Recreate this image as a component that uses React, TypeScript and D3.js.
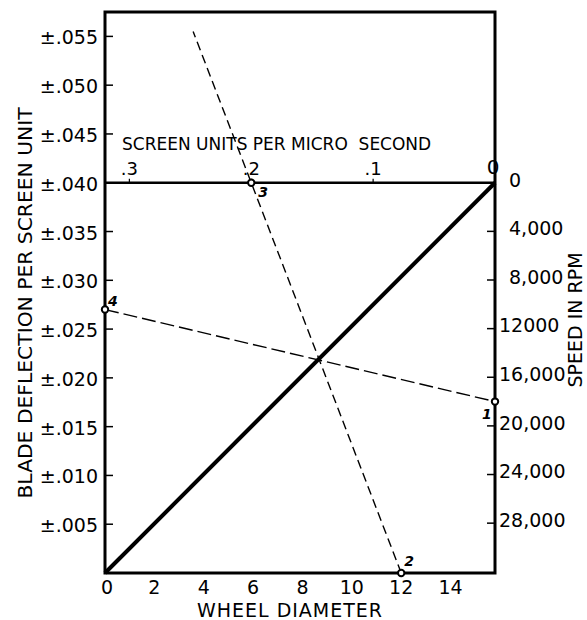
import React from 'react';
import * as d3 from 'd3';

// Left axis: blade deflection per screen unit
const deflectionTicks = [0.005, 0.01, 0.015, 0.02, 0.025, 0.03, 0.035, 0.04, 0.045, 0.05, 0.055];
const deflectionLabels = ['±.005', '±.010', '±.015', '±.020', '±.025', '±.030', '±.035', '±.040', '±.045', '±.050', '±.055'];
// Right axis: speed in rpm
const rpmTicks = [0, 4000, 8000, 12000, 16000, 20000, 24000, 28000];
const rpmLabels = ['0', '4,000', '8,000', '12000', '16,000', '20,000', '24,000', '28,000'];
// Bottom axis: wheel diameter
const diameterTicks = [0, 2, 4, 6, 8, 10, 12, 14];
// Top (inner) axis: screen units per micro second
const screenTicks = [0.3, 0.2, 0.1, 0];
const screenLabels = ['.3', '.2', '.1', '0'];

// Solution points
const point1Rpm = 18000;
const point2Diameter = 12;
const point3Screen = 0.2;
const point4Deflection = 0.027;
const screenLineDeflection = 0.04;
const dashedTopDeflection = 0.0555;

const FONT = 'DejaVu Sans';

export default function App() {
  const L = 105, R = 495, T = 12, B = 573;
  const x = d3.scaleLinear().domain([0, 15.8]).range([L, R]);
  const yDef = d3.scaleLinear().domain([0, 0.0575]).range([B, T]);
  const yLine = yDef(screenLineDeflection);
  const yRpm = d3.scaleLinear().domain([0, 32100]).range([yLine, B]);
  const xScreen = d3.scaleLinear().domain([0.32, 0]).range([L, R]);

  const p1: [number, number] = [R, yRpm(point1Rpm)];
  const p2: [number, number] = [x(point2Diameter), B];
  const p3: [number, number] = [xScreen(point3Screen), yLine];
  const p4: [number, number] = [L, yDef(point4Deflection)];
  const yTop = yDef(dashedTopDeflection);
  const xTop = p2[0] + (p3[0] - p2[0]) * (yTop - p2[1]) / (p3[1] - p2[1]);

  const line = d3.line();

  return (
    <svg width={587} height={620} style={{ position: 'absolute', left: 0, top: 0, background: '#fff' }}
      fontFamily={FONT}>
      {/* diagonal */}
      <path d={line([[x(0), B], [R, yLine]]) || ''} stroke="#000" strokeWidth={4} fill="none" />
      {/* screen units line */}
      <path d={line([[L, yLine], [R, yLine]]) || ''} stroke="#000" strokeWidth={2.6} fill="none" />
      {/* 4 -> 1 */}
      <path d={line([p4, p1]) || ''} stroke="#000" strokeWidth={1.4} fill="none" strokeDasharray="14,5" />
      {/* 2 -> 3 extended */}
      <path d={line([p2, [xTop, yTop]]) || ''} stroke="#000" strokeWidth={1.4} fill="none" strokeDasharray="9,5" />
      {/* frame */}
      <rect x={L} y={T} width={R - L} height={B - T} fill="none" stroke="#000" strokeWidth={3} />

      {/* left ticks */}
      {deflectionTicks.map((v, i) => (
        <g key={'d' + i}>
          <line x1={L} x2={L + 8} y1={yDef(v)} y2={yDef(v)} stroke="#000" strokeWidth={1.5} />
          <text x={98} y={yDef(v)} dy="0.42em" textAnchor="end" fontSize={19}>{deflectionLabels[i]}</text>
        </g>
      ))}
      <text transform={`translate(32,303) rotate(-90)`} textAnchor="middle" fontSize={20.3}>
        BLADE DEFLECTION PER SCREEN UNIT
      </text>

      {/* right ticks */}
      {rpmTicks.map((v, i) => (
        <g key={'r' + i}>
          {i > 0 && <line x1={R - 8} x2={R} y1={yRpm(v)} y2={yRpm(v)} stroke="#000" strokeWidth={1.5} />}
          <text x={i < 3 ? 509 : 499} y={yRpm(v)} dy="0.2em" textAnchor="start" fontSize={19}>{rpmLabels[i]}</text>
        </g>
      ))}
      <text transform={`translate(582,320) rotate(-90)`} textAnchor="middle" fontSize={19}>
        SPEED IN RPM
      </text>

      {/* bottom axis */}
      {diameterTicks.map((v) => (
        <text key={'b' + v} x={x(v) + (v === 0 ? 2 : 0)} y={594} textAnchor="middle" fontSize={19}>{v}</text>
      ))}
      <text x={290} y={617} textAnchor="middle" fontSize={19} letterSpacing={1}>WHEEL DIAMETER</text>

      {/* screen units axis */}
      {screenTicks.map((v, i) => (
        <g key={'s' + i}>
          {v > 0 && <line x1={xScreen(v)} x2={xScreen(v)} y1={yLine - 4} y2={yLine} stroke="#000" strokeWidth={1.2} />}
          <text x={xScreen(v) - (v === 0 ? 2 : 0)} y={v === 0 ? 174 : 175} textAnchor="middle" fontSize={v === 0 ? 20 : 18}>{screenLabels[i]}</text>
        </g>
      ))}
      <text x={122} y={150} fontSize={17}>SCREEN UNITS PER MICRO&#160; SECOND</text>

      {/* points */}
      {[p1, p2, p3, p4].map((p, i) => (
        <circle key={'p' + i} cx={p[0]} cy={p[1]} r={3.2} fill="#fff" stroke="#000" strokeWidth={2} />
      ))}
      <text x={p1[0] - 13} y={p1[1] + 17} fontSize={14} fontWeight="bold" fontStyle="italic">1</text>
      <text x={p2[0] + 3} y={p2[1] - 7} fontSize={14} fontWeight="bold" fontStyle="italic">2</text>
      <text x={p3[0] + 7} y={p3[1] + 14} fontSize={14} fontWeight="bold" fontStyle="italic">3</text>
      <text x={p4[0] + 3} y={p4[1] - 4} fontSize={14} fontWeight="bold" fontStyle="italic">4</text>
    </svg>
  );
}
